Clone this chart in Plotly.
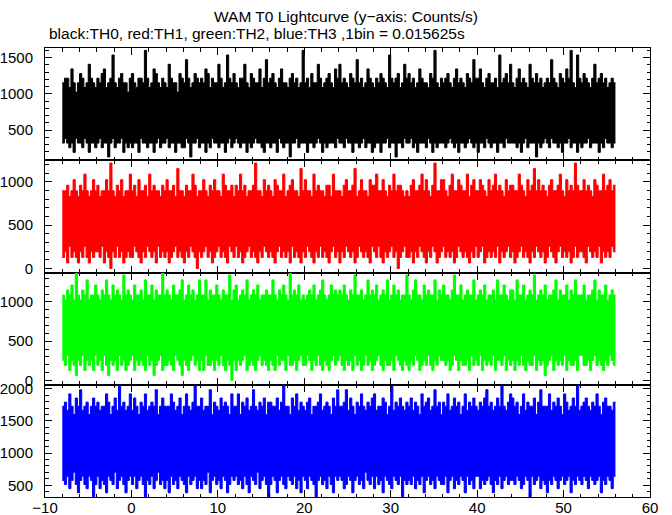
import numpy as np
import plotly.graph_objects as go
from plotly.subplots import make_subplots

# ---- data (counts per bin; 1 bin = 0.015625 s) ----
BIN_SEC = 0.015625
T_START = -8.0
CHUNK_BINS = 16  # each envelope value = extreme over 16 bins (0.25 s)

th0_max = [18,19,19,17,21,18,16,18,20,19,17,18,22,19,18,17,
 19,18,20,21,17,18,19,24,18,17,19,20,18,18,16,19,
 20,18,17,19,19,18,25,19,17,18,21,20,18,17,19,18,
 17,22,19,18,18,16,20,19,18,23,19,17,18,20,19,18,
 19,18,21,20,17,19,18,18,22,19,17,18,24,19,18,20,
 18,17,19,19,22,18,17,20,19,18,18,21,17,19,23,18,
 19,20,18,17,19,21,18,18,17,19,20,18,19,17,18,25,
 18,19,17,20,18,18,22,19,17,18,19,20,18,17,21,19,
 22,18,19,18,17,20,19,18,23,18,19,17,18,21,19,18,
 17,19,18,20,19,18,17,24,19,18,19,20,17,18,22,19,
 20,18,19,17,18,21,19,18,18,17,20,19,25,18,17,19,
 18,19,20,18,17,19,21,18,19,18,17,20,19,18,23,19,
 19,21,18,17,19,20,18,18,19,17,24,18,19,20,18,22,
 18,17,19,21,18,19,18,17,22,19,18,20,18,19,17,18,
 19,18,23,19,18,17,20,19,18,21,19,25,18,17,24,19,
 18,20,19,18,17,19,22,18,19,20,18,19,17,18,19,18]
th0_min = [5,6,5,4,5,3,6,5,5,4,6,5,3,5,5,4,
 5,6,4,5,5,2,5,6,4,5,5,6,3,5,4,5,
 4,5,5,3,6,5,5,4,5,5,3,5,6,4,5,5,
 6,4,5,5,3,5,5,4,4,6,5,2,5,5,6,4,
 5,5,3,5,4,6,5,5,4,5,5,3,5,6,4,5,
 6,5,4,5,5,3,5,4,5,6,5,5,4,3,5,5,
 4,5,5,3,6,5,4,5,5,2,5,5,6,4,5,5,
 5,3,5,5,4,5,6,5,3,5,4,5,5,5,4,6,
 5,5,4,6,5,5,3,5,5,4,5,6,4,5,5,3,
 4,5,5,3,5,5,6,4,5,5,2,5,5,4,6,5,
 5,6,4,5,3,5,5,5,4,6,5,3,5,4,5,5,
 5,4,5,6,5,4,5,3,5,5,4,5,6,5,4,5,
 3,5,5,4,6,5,4,5,5,3,5,5,4,6,5,5,
 5,5,4,5,3,5,6,4,5,5,5,2,5,4,5,6,
 5,4,6,5,5,4,5,3,5,5,6,4,5,5,3,5,
 4,5,5,6,4,5,5,5,3,5,4,6,5,5,4,5]

th1_max = [14,14,15,13,14,16,14,13,15,14,17,14,13,14,16,14,
 15,13,14,14,16,14,19,14,13,15,14,16,13,14,14,17,
 14,15,13,16,14,14,15,13,17,14,15,14,14,13,15,14,
 16,14,14,15,13,18,14,14,13,15,14,14,17,15,13,14,
 14,16,14,13,15,14,16,14,14,13,17,15,14,14,15,13,
 15,14,17,14,15,13,14,14,15,19,14,14,13,16,14,15,
 14,13,16,15,14,14,17,13,14,15,16,14,14,13,18,14,
 16,14,14,13,17,14,15,14,14,13,15,15,13,17,14,14,
 14,13,15,16,14,14,15,18,13,14,16,14,14,13,16,15,
 15,17,14,14,16,14,13,15,14,17,14,15,15,14,13,14,
 13,15,16,14,14,15,17,14,16,14,13,15,19,14,14,16,
 16,14,13,15,17,14,14,16,15,14,14,17,13,15,16,14,
 14,16,15,14,13,16,14,15,17,14,15,14,13,16,14,15,
 15,14,14,17,15,14,13,16,14,15,18,14,16,14,15,14,
 13,15,16,14,14,15,17,14,13,16,14,15,14,19,15,14,
 14,16,14,15,14,13,16,15,14,14,17,14,15,16,14,15]
th1_min = [2,3,1,4,2,3,2,1,3,2,4,2,1,3,2,3,
 3,2,4,1,3,2,0,3,2,4,2,3,1,2,3,2,
 2,4,3,2,1,3,2,4,3,2,3,1,4,2,3,2,
 3,1,2,3,4,2,3,2,1,3,2,4,3,2,0,3,
 2,3,4,2,3,1,2,3,4,2,3,2,1,4,3,2,
 4,2,3,1,2,3,4,2,3,2,1,3,2,4,3,2,
 3,2,1,3,4,2,3,2,3,1,4,2,3,2,1,3,
 2,4,3,2,1,3,2,4,2,3,2,1,3,4,2,3,
 1,3,2,4,3,2,3,1,2,4,3,2,3,2,1,4,
 3,2,4,2,1,3,2,3,4,2,3,0,2,3,4,2,
 2,3,1,3,2,4,3,2,1,3,2,4,3,1,2,3,
 4,2,3,2,3,1,2,4,3,2,3,2,1,3,2,4,
 2,3,4,1,2,3,2,3,2,4,1,3,2,3,4,2,
 3,1,2,3,4,2,3,2,1,3,2,4,3,2,3,1,
 2,4,3,2,1,3,4,2,3,2,3,1,2,4,2,3,
 3,2,1,4,3,2,3,2,4,1,3,2,3,2,4,3]

th2_max = [17,16,18,17,19,16,22,17,16,18,17,20,16,17,17,19,
 17,16,18,17,20,17,16,19,17,18,17,16,21,17,18,17,
 16,19,17,17,18,16,20,17,17,19,16,18,17,17,22,17,
 18,17,16,19,17,17,18,20,16,17,19,17,18,16,17,20,
 17,17,20,16,18,17,17,19,17,16,18,17,17,21,16,18,
 19,16,17,18,17,20,16,17,18,17,19,16,17,17,18,17,
 17,20,17,16,18,17,19,17,16,22,17,18,17,19,16,17,
 16,17,18,17,19,16,17,18,20,17,16,17,19,17,18,17,
 18,17,19,17,16,18,17,21,17,17,18,16,17,20,17,18,
 17,19,16,17,18,17,20,16,17,19,17,18,16,17,17,21,
 17,16,18,20,17,17,16,19,17,18,17,17,20,16,18,17,
 19,17,17,16,18,21,17,17,19,16,17,18,17,17,20,16,
 17,18,17,19,16,17,17,18,16,20,17,17,19,17,16,18,
 18,16,20,17,17,19,16,17,18,17,21,16,17,18,17,19,
 16,17,17,18,20,16,18,17,17,19,16,18,17,20,17,17,
 17,19,16,17,17,18,20,16,18,17,17,19,16,17,18,17]
th2_min = [4,3,5,2,4,3,1,4,3,5,2,4,3,4,2,5,
 3,4,2,5,3,1,4,3,4,2,5,3,4,2,3,4,
 5,2,4,3,4,3,2,5,3,4,1,3,4,5,2,3,
 3,4,3,2,5,4,3,1,4,3,2,4,5,3,4,2,
 4,2,5,3,3,4,2,4,3,5,3,2,4,3,0,4,
 2,4,3,4,5,2,3,4,3,2,4,5,3,4,3,2,
 4,3,2,5,3,4,4,2,5,3,3,4,2,4,5,3,
 3,5,4,2,4,3,5,3,2,4,3,2,4,5,3,4,
 5,3,2,4,3,4,2,5,3,4,2,3,5,3,4,2,
 3,4,5,3,2,4,3,3,4,2,5,4,3,2,4,3,
 2,4,3,5,4,2,3,4,3,5,3,2,4,3,5,4,
 4,3,4,2,3,5,4,2,4,3,3,4,2,5,3,4,
 3,5,2,4,3,4,3,5,2,4,4,3,5,2,4,3,
 4,2,4,3,5,3,2,4,3,3,5,2,4,3,4,1,
 3,4,5,2,4,3,4,3,5,2,4,3,3,4,2,5,
 5,3,3,4,2,4,5,3,4,3,2,4,3,5,4,3]

th3_max = [27,28,26,30,27,25,29,27,31,26,27,28,25,27,29,27,
 28,26,27,27,30,28,25,27,29,26,32,27,28,26,27,30,
 26,29,27,25,28,27,30,26,27,28,27,31,25,27,29,27,
 27,27,30,28,26,27,29,25,27,30,27,26,28,32,27,27,
 29,26,27,27,31,25,28,27,26,29,27,28,27,25,30,27,
 27,30,25,28,27,29,26,27,31,27,26,28,27,29,25,28,
 28,27,27,29,26,28,32,27,27,25,29,27,30,26,28,27,
 26,28,29,25,27,27,28,30,26,27,28,27,25,29,27,31,
 27,27,28,31,26,29,27,25,28,27,30,27,26,28,27,29,
 30,26,27,27,29,28,25,27,32,26,28,27,29,27,26,28,
 27,29,26,28,27,25,30,27,28,29,26,27,31,27,28,25,
 28,27,30,26,27,29,27,28,25,27,30,26,28,27,29,27,
 26,28,27,29,31,27,28,26,27,29,27,32,27,26,28,30,
 29,27,28,25,27,30,26,28,27,27,29,25,28,31,27,27,
 27,30,26,28,27,29,27,25,30,28,26,27,29,27,32,26,
 27,28,29,27,26,28,27,30,27,25,28,29,27,27,26,28]
th3_min = [9,8,10,7,9,11,8,6,9,10,8,7,10,9,5,8,
 10,7,9,8,6,10,9,8,11,7,9,10,8,6,9,10,
 8,10,7,9,10,8,5,9,8,10,7,9,11,8,9,7,
 9,6,10,8,9,7,10,9,8,6,10,8,9,10,7,9,
 7,9,8,11,6,9,10,8,9,7,10,9,6,8,10,9,
 10,8,9,7,10,8,6,10,9,8,11,7,9,10,8,5,
 8,10,9,6,9,10,8,7,10,9,8,10,7,9,6,10,
 9,7,10,9,8,5,9,10,8,9,7,10,8,6,10,9,
 10,9,7,8,10,9,6,9,10,8,9,7,11,9,8,10,
 7,10,8,9,6,10,9,8,7,10,9,8,10,5,9,8,
 9,8,10,7,9,8,10,6,9,10,8,9,7,10,9,8,
 8,10,6,9,10,7,9,8,10,9,6,10,8,9,7,10,
 10,7,9,8,9,10,8,6,9,8,10,7,9,10,8,9,
 9,8,10,9,7,8,10,9,5,10,8,9,10,7,9,8,
 6,9,8,10,9,7,9,10,8,9,10,6,9,8,10,9,
 8,10,9,7,10,9,8,9,10,6,9,8,10,9,7,10]

colors = ["#000000", "#ff0000", "#00ff00", "#0000ff"]
y_ranges = [[83, 1633], [-46, 1248], [-55, 1375], [318, 2062]]
x_range = [-10, 60]

series = [(th0_min, th0_max), (th1_min, th1_max), (th2_min, th2_max), (th3_min, th3_max)]

fig = make_subplots(rows=4, cols=1, shared_xaxes=True, vertical_spacing=0)

chunk_sec = CHUNK_BINS * BIN_SEC
for i, ((lo, hi), col) in enumerate(zip(series, colors)):
    n = len(hi)
    x = T_START + chunk_sec * np.arange(n + 1)
    ylo = np.append(np.array(lo), lo[-1]) / BIN_SEC
    yhi = np.append(np.array(hi), hi[-1]) / BIN_SEC
    fig.add_trace(go.Scatter(x=x, y=ylo, mode="lines", line=dict(color=col, width=1, shape="hv"),
                             showlegend=False, hoverinfo="skip"), row=i + 1, col=1)
    fig.add_trace(go.Scatter(x=x, y=yhi, mode="lines", line=dict(color=col, width=1, shape="hv"),
                             fill="tonexty", fillcolor=col, showlegend=False, hoverinfo="skip"),
                  row=i + 1, col=1)

FONT = "Liberation Sans, Arial, Helvetica, sans-serif"
h = 1.0 / 4
for i in range(4):
    dom = [1 - (i + 1) * h, 1 - i * h]
    fig.update_yaxes(range=y_ranges[i], domain=dom, dtick=500, tick0=0, automargin=False,
                     ticks="inside", ticklen=7, tickwidth=1, tickcolor="black",
                     minor=dict(dtick=100, ticks="inside", ticklen=3.5, tickcolor="black", tickwidth=1),
                     showline=True, linecolor="black", linewidth=1, mirror="ticks",
                     showgrid=False, zeroline=False, ticklabelstandoff=8,
                     tickfont=dict(family=FONT, size=15, color="black"),
                     row=i + 1, col=1)
    fig.update_xaxes(range=x_range, dtick=10, tick0=0, automargin=False,
                     ticks="inside", ticklen=7, tickwidth=1, tickcolor="black",
                     minor=dict(dtick=2, ticks="inside", ticklen=3.5, tickcolor="black", tickwidth=1),
                     showline=True, linecolor="black", linewidth=1, mirror="ticks",
                     showgrid=False, zeroline=False, ticklabelstandoff=-3,
                     tickfont=dict(family=FONT, size=15, color="black"),
                     row=i + 1, col=1)

fig.update_layout(
    width=672, height=515,
    margin=dict(l=45, r=22, t=48, b=18),
    paper_bgcolor="white", plot_bgcolor="white",
    font=dict(family=FONT, color="black"),
    showlegend=False,
    annotations=[
        dict(text="WAM T0 Lightcurve (y−axis: Counts/s)", xref="paper", yref="paper",
             x=0.497, y=1.0, yshift=32, xanchor="center", yanchor="middle",
             showarrow=False, font=dict(family=FONT, size=15.5, color="black")),
        dict(text="black:TH0, red:TH1, green:TH2, blue:TH3 ,1bin = 0.015625s", xref="paper", yref="paper",
             x=0.003, y=1.0, yshift=15, xanchor="left", yanchor="middle",
             showarrow=False, font=dict(family=FONT, size=15.5, color="black")),
    ],
)

# remove the browser's default 8px body margin so the figure fills the window exactly
fig.write_html("out.html", config={"displayModeBar": False},
               post_script="document.body.style.margin='0';document.body.style.padding='0';")
